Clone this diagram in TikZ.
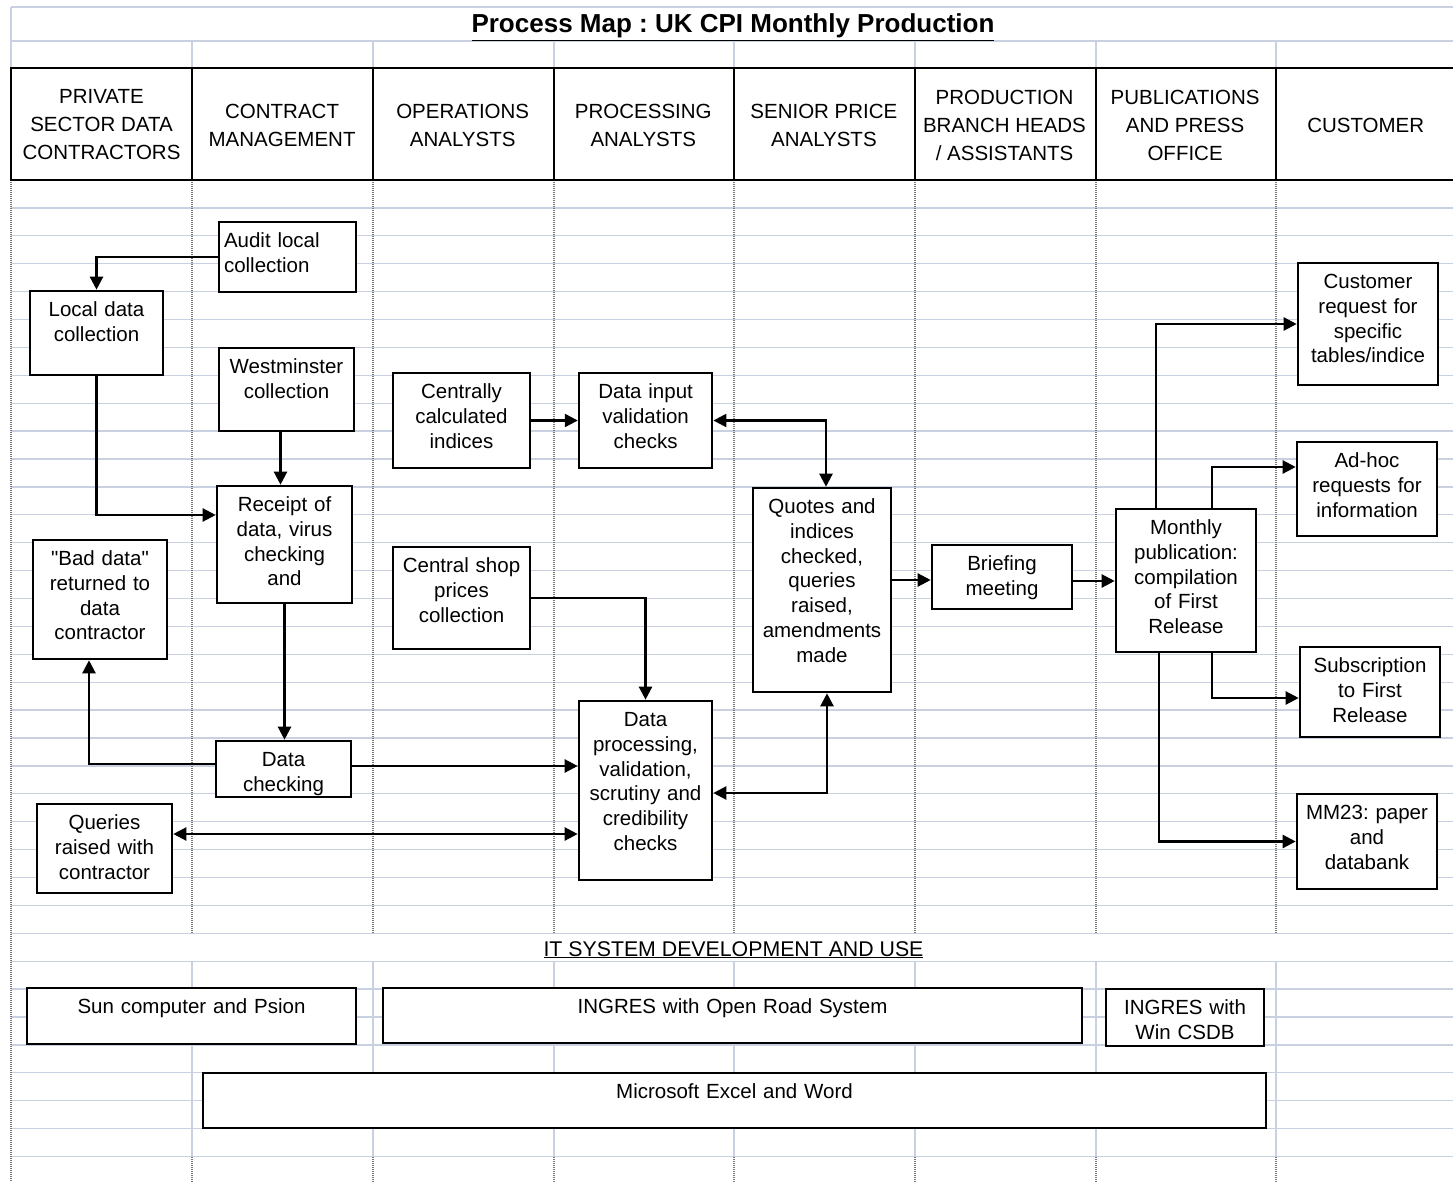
\documentclass[tikz,border=0pt]{standalone}
\usepackage{fontspec}
\setmainfont{Liberation Sans}[Ligatures=TeXOff]
\usepackage{xcolor}
\usepackage{tikz}
\usetikzlibrary{arrows.meta, positioning}
\definecolor{gridblue}{RGB}{200,208,226}
\definecolor{dotgray}{RGB}{120,120,120}
\newcommand{\boxfont}{\fontsize{20.5}{24.8}\selectfont}
\newcommand{\lanefont}{\fontsize{20.5}{28}\selectfont}
\frenchspacing
\tikzset{
    task/.style={
        rectangle,
        draw=black,
        line width=2.6pt,
        fill=white,
        align=center,
        inner xsep=0pt,
        inner ysep=4pt,
        text height=21.5pt,
        font=\boxfont,
    },
    lane/.style={
        align=center,
        font=\lanefont,
    },
    gridline/.style={
        draw=gridblue,
        line width=1.3pt,
    },
    dotline/.style={
        draw=dotgray,
        line width=1.3pt,
        dash pattern=on 1pt off 1pt,
    },
    lanebar/.style={
        draw=black,
        line width=2.6pt,
    },
    flow/.style={
        line width=2.3pt,
    },
}

\begin{document}
\begin{tikzpicture}[x=1pt, y=-1pt, >={Triangle[length=13pt,width=13pt]}, node distance=180.6pt]
      \useasboundingbox (0,0) rectangle (1453,1182);

      % spreadsheet grid
      \foreach \y in {1,...,35}
        \draw[gridline] (11,{180+27.9*\y}) -- (1453,{180+27.9*\y});
      \draw[gridline] (11,7) -- (1453,7);
      \draw[gridline] (11,41) -- (1453,41);
      \draw[gridline] (11,7) -- (11,68);
      \draw[dotline] (11,180) -- (11,1182);
      \foreach \x in {192,373,554,734,915,1096,1276} {
        \draw[gridline] (\x,41) -- (\x,68);
        \draw[gridline] (\x,961) -- (\x,1157);
        \draw[dotline] (\x,180) -- (\x,933);
        \draw[dotline] (\x,1157) -- (\x,1182);
        \draw[lanebar] (\x,68) -- (\x,180);
      }
      \draw[lanebar] (1453,68) -- (11,68) -- (11,180) -- (1453,180);

      % title
      \node[font=\fontsize{26}{30}\selectfont\bfseries, anchor=base] (title) at (733,33) {\underline{Process Map : UK CPI Monthly Production}};

      % swimlane headings
      \node[lane] (hpriv) at (101.5,125) {PRIVATE\\SECTOR DATA\\CONTRACTORS};
      \node[lane, on grid, right=of hpriv] (hcontr) {CONTRACT\\MANAGEMENT};
      \node[lane, on grid, right=of hcontr] (hops) {OPERATIONS\\ANALYSTS};
      \node[lane, on grid, right=of hops] (hproc) {PROCESSING\\ANALYSTS};
      \node[lane, on grid, right=of hproc] (hsenior) {SENIOR PRICE\\ANALYSTS};
      \node[lane, on grid, right=of hsenior] (hprod) {PRODUCTION\\BRANCH HEADS\\/ ASSISTANTS};
      \node[lane, on grid, right=of hprod] (hpub) {PUBLICATIONS\\AND PRESS\\OFFICE};
      \node[lane, on grid, right=of hpub] (hcust) {CUSTOMER};

      % process steps
      \node[task, align=left, inner xsep=5pt, text width=127pt, text depth=40.5pt] (audit) at (287.5,257) {Audit local\\collection};
      \node[task, text width=133pt, text depth=54.5pt] (local) at (96.5,333) {Local data\\collection};
      \node[task, text width=135pt, text depth=53.5pt] (westm) at (286.5,389.5) {Westminster\\collection};
      \node[task, text width=135pt, text depth=87.5pt] (receipt) at (284.5,544.5) {Receipt of\\data, virus\\checking\\and};
      \node[task, text width=134pt, text depth=89.5pt] (bad) at (100,599.5) {"Bad data"\\returned to\\data\\contractor};
      \node[task, text width=135pt, text depth=26.5pt] (dchk) at (283.5,769) {Data\\checking};
      \node[task, text width=135pt, text depth=59.5pt] (query) at (104.5,848.5) {Queries\\raised with\\contractor};

      \node[task, text width=137pt, text depth=65.5pt] (cent) at (461.5,420.5) {Centrally\\calculated\\indices};
      \node[task, text width=133pt, text depth=65.5pt, right=46.5pt of cent] (input) {Data input\\validation\\checks};
      \node[task, text width=137pt, text depth=72.5pt, below=76.4pt of cent] (shop) {Central shop\\prices\\collection};
      \node[task, text width=133pt, text depth=149.5pt] (proc) at (645.5,790.5) {Data\\processing,\\validation,\\scrutiny and\\credibility\\checks};
      \node[task, text width=138pt, text depth=174.5pt] (quotes) at (822,590) {Quotes and\\indices\\checked,\\queries\\raised,\\amendments\\made};
      \node[task, text width=140pt, text depth=34.5pt] (brief) at (1002,577) {Briefing\\meeting};
      \node[task, text width=140pt, text depth=113.5pt] (monthly) at (1186,580.5) {Monthly\\publication:\\compilation\\of First\\Release};

      \node[task, text width=140pt, text depth=92.5pt] (custreq) at (1368,324) {Customer\\request for\\specific\\tables/indice};
      \node[task, text width=140pt, text depth=64.5pt] (adhoc) at (1367,489) {Ad-hoc\\requests for\\information};
      \node[task, text width=140pt, text depth=60.5pt] (subs) at (1370,692) {Subscription\\to First\\Release};
      \node[task, text width=140pt, text depth=65.5pt] (mm23) at (1367,841.5) {MM23: paper\\and\\databank};

      % IT systems
      \node[font=\fontsize{21.3}{26}\selectfont, anchor=base] (itlabel) at (733.5,956) {\underline{IT SYSTEM DEVELOPMENT AND USE}};
      \node[task, text width=329pt, text depth=26.5pt] (sun) at (191.5,1016) {Sun computer and Psion};
      \node[task, text width=699pt, text depth=25.5pt] (ingres) at (732.5,1015.5) {INGRES with Open Road System};
      \node[task, text width=158pt, text depth=27.5pt] (csdb) at (1185,1017.5) {INGRES with\\Win CSDB};
      \node[task, text width=1063pt, text depth=25.5pt] (excel) at (734.5,1100.5) {Microsoft Excel and Word};

      % flows
      \draw[flow, ->] (audit.west) -| (local.north);
      \draw[flow, ->] (local.south) |- ([yshift=29.5pt]receipt.west);
      \draw[flow, ->] ([xshift=-6pt]westm.south) -- ([xshift=-6pt]westm.south |- receipt.north);
      \draw[flow, ->] (receipt.south) -- (receipt.south |- dchk.north);
      \draw[flow, ->] ([yshift=5pt]dchk.west) -| ([xshift=-11pt]bad.south);
      \draw[flow, ->] ([yshift=3pt]dchk.east) -- ([yshift=3pt]dchk.east -| proc.west);
      \draw[flow, <->] ([yshift=14.5pt]query.east) -- ([yshift=14.5pt]query.east -| proc.west);
      \draw[flow, ->] (cent) -- (input);
      \draw[flow, <->] (input.east) -| ([xshift=4pt]quotes.north);
      \draw[flow, ->] (shop.east) -| (proc.north);
      \draw[flow, <->] ([yshift=-2.5pt]proc.east) -| ([xshift=5pt]quotes.south);
      \draw[flow, ->] ([yshift=-3pt]brief.west -| quotes.east) -- ([yshift=-3pt]brief.west);
      \draw[flow, ->] ([yshift=-4pt]brief.east) -- ([yshift=-4pt]brief.east -| monthly.west);
      \draw[flow, ->] ([xshift=-30pt]monthly.north) |- (custreq.west);
      \draw[flow, ->] ([xshift=26pt]monthly.north) |- ([yshift=22pt]adhoc.west);
      \draw[flow, ->] ([xshift=26pt]monthly.south) |- ([yshift=-6pt]subs.west);
      \draw[flow, ->] ([xshift=-27pt]monthly.south) |- (mm23.west);

    \end{tikzpicture}
\end{document}
